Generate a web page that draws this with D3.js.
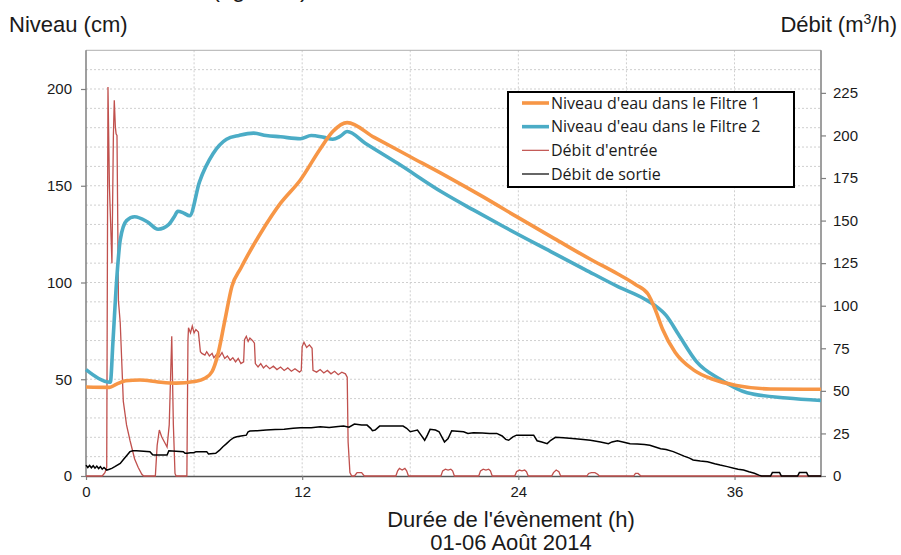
<!DOCTYPE html>
<html>
<head>
<meta charset="utf-8">
<title>Niveau et débit</title>
<script src="https://d3js.org/d3.v7.min.js"></script>
<style>
  body { margin: 0; background: #fff; }
  text { font-family: "Liberation Sans", Arial, sans-serif; fill: #1a1a1a; }
</style>
</head>
<body>
<script>
// hours, niveau (cm)
var filtre1 = [[0,46],[1.3,45.8],[1.7,47.5],[2.2,49.2],[3,49.6],[4,48.6],[5,48],[6,48.8],[6.6,50.5],
  [7,54],[7.3,62],[7.7,80],[8.1,98],[8.6,107.5],[9.7,125.6],[10.8,141],[11.9,153],[13,169],[13.7,178],
  [14.5,182.6],[16,175],[18,165],[20,155],[22,144.5],[24,133.5],[26,122.7],[28,112],[29.5,104.5],
  [30.5,99],[31.2,94],[31.6,86],[32,76],[32.7,64],[33.7,55],[34.8,50],[36.1,46.8],[38,45],[40.8,44.8]];

var filtre2 = [[0,55],[1.35,48.5],[1.5,70],[1.7,101],[1.9,122],[2.25,132],[2.7,134],[3.4,131.4],[4,127.5],
  [4.6,130],[4.9,134],[5.1,136.8],[5.4,136],[5.75,134.5],[6.3,152],[7.05,166.5],[7.8,174],[8.5,176],
  [9.3,177.2],[10,176],[10.8,175.3],[11.9,174.3],[12.5,176],[13.2,175],[13.7,174],[14.1,175.5],[14.5,178],
  [15.5,172],[17.3,161.6],[19.8,146.5],[21.5,137.5],[23.2,128.8],[25.8,116],[27.7,106.7],[29.5,98],
  [31,91.5],[31.6,88],[32.2,83],[32.9,73],[33.9,59],[35.2,50],[36.7,43],[38.9,40.3],[40.8,39]];

// hours, débit (m3/h)
var debitEntree = [[0,0],[0.9,0],[1.05,2],[1.15,5],[1.22,228.5],[1.3,170],[1.44,125],[1.52,200],[1.57,220.7],
  [1.63,205],[1.67,201],[1.72,200],[1.8,103],[1.9,90],[2.07,44],[2.25,30],[2.44,21],[2.7,10],[2.9,5],[3.1,1],
  [3.2,0],[3.85,0],[3.95,18],[4.07,27],[4.2,23],[4.3,21],[4.5,17],[4.62,30],[4.76,82],[4.85,30],[4.94,1.5],
  [5,0],[5.6,0],[5.66,80],[5.69,87],[5.8,84],[5.9,88],[6.0,84],[6.1,86],[6.24,84.5],[6.35,73],[6.43,72],
  [6.6,71],[6.7,73],[6.85,70.5],[7.0,72],[7.1,69.5],[7.25,71.5],[7.4,70],[7.55,72.5],[7.7,69],[7.85,70.5],
  [8.0,68],[8.15,69.5],[8.3,67],[8.45,69],[8.6,66],[8.75,67],[8.8,80],[8.9,82],[9.0,79],[9.1,81],[9.25,79.5],
  [9.35,78],[9.4,66],[9.55,64],[9.7,66],[9.85,63.5],[10,65],[10.2,63],[10.4,64.5],[10.6,62.5],[10.8,64],
  [11.0,62],[11.2,63.5],[11.4,61.5],[11.6,63],[11.85,61],[11.95,62],[12.0,76],[12.1,78.5],[12.25,75.5],
  [12.4,77],[12.55,75],[12.6,62],[12.8,61],[13.0,62.5],[13.2,60.5],[13.4,62],[13.6,60],[13.8,61.5],
  [14.0,59.5],[14.2,61],[14.4,60],[14.5,58],[14.55,20],[14.65,2],[14.75,0],
  [14.9,0],[15.05,2],[15.3,2],[15.45,0],
  [17.2,0],[17.3,3],[17.4,4.5],[17.55,3.5],[17.7,4.5],[17.8,3],[17.9,0],
  [19.7,0],[19.8,3],[19.95,4],[20.1,3.5],[20.25,4],[20.35,3],[20.45,0],
  [21.8,0],[21.9,3],[22.05,4],[22.2,3.5],[22.35,4],[22.45,3],[22.55,0],
  [23.8,0],[23.9,2.5],[24.05,3.5],[24.2,3],[24.35,3.5],[24.45,2.5],[24.55,0],
  [25.85,0],[25.95,2],[26.1,3.5],[26.25,2.5],[26.35,0],
  [27.8,0],[27.9,1.5],[28.05,2],[28.25,2],[28.4,1],[28.5,0],
  [30.4,0],[30.5,1.5],[30.65,1.5],[30.8,0],[40.8,0]];

var debitSortie = [[0,6.4],[0.1,5],[0.2,6.2],[0.3,4.8],[0.4,6],[0.5,4.6],[0.6,5.8],[0.7,4.4],[0.8,5.5],
  [0.9,4],[1.0,5],[1.15,3.5],[1.3,4],[1.43,4.5],[1.6,5.5],[1.9,7.4],[2.1,10],[2.3,12.5],[2.44,14.3],
  [2.6,14.8],[2.8,14.8],[3.2,14.5],[3.55,14.3],[3.7,12.5],[3.8,12.3],[4.5,12.3],[4.6,14.8],[5.4,14.3],
  [5.5,13.3],[5.6,13.3],[5.8,13.7],[6.0,13.7],[6.1,14.3],[6.7,14.3],[6.8,12.9],[7.2,13.3],[7.4,15],
  [7.6,17.2],[7.8,19],[8.0,21],[8.2,22.5],[8.37,23],[8.6,23.5],[8.9,24],[9.0,26],[9.1,26.4],[9.5,26.6],
  [10,27],[10.5,27.3],[11,27.5],[11.5,28],[11.9,28.3],[12.5,28.3],[13,28.9],[13.5,28.5],[14,29],[14.3,29.3],
  [14.6,28.7],[14.9,30.5],[15.3,30],[15.6,29.9],[15.8,28],[15.9,26.6],[16.05,27],[16.3,29.3],[17,29.3],
  [17.6,29.3],[17.8,28],[18,26],[18.2,26.5],[18.4,27],[18.6,24],[18.8,21],[18.95,24],[19.1,27.4],[19.4,27],
  [19.6,26],[19.75,23],[19.9,20],[20.1,22],[20.3,26.6],[20.6,26.3],[20.96,26],[21.2,25],[21.5,25.4],
  [22,25.2],[22.4,25],[22.8,25],[23.1,23.5],[23.3,21.5],[23.46,21],[23.7,23],[23.9,24],[24.5,24],
  [24.85,24],[25.04,20.7],[25.3,20],[25.6,19],[25.8,21],[26.06,22.7],[26.5,22.5],[27,22],[27.6,21.5],
  [28,21],[28.56,20],[29,19],[29.2,20],[29.5,20.7],[29.8,20],[30.2,19],[30.6,18.8],[31,18.5],[31.3,18],
  [31.6,17],[31.9,16],[32.2,15.5],[32.6,14.3],[32.9,13],[33.2,11.7],[33.5,10.5],[33.7,9.4],[34.1,8.8],
  [34.5,8.4],[34.9,7.2],[35.2,6.4],[35.6,5.5],[35.96,4.5],[36.2,4],[36.5,3.5],[36.8,2.5],[37.1,1.6],
  [37.35,0.5],[37.5,0],[38,0],[38.1,2],[38.5,2],[38.6,0],[39.5,0],[39.6,2],[40,2],[40.1,0],[40.8,0]];

var xTicks = [0, 12, 24, 36];
var xGrid = [6, 12, 18, 24, 30, 36];
var leftTicks = [0, 50, 100, 150, 200];
var rightTicks = [0, 25, 50, 75, 100, 125, 150, 175, 200, 225];
var legendLabels = ["Niveau d'eau dans le Filtre 1", "Niveau d'eau dans le Filtre 2", "Débit d'entrée", "Débit de sortie"];

var width = 901, height = 555;
var pL = 86, pR = 821, pT = 50.3, pB = 476;

var svg = d3.select("body").append("svg")
  .attr("width", width)
  .attr("height", height);

var x = d3.scaleLinear().domain([0, 40.8]).range([pL, pR]);
var yL = d3.scaleLinear().domain([0, 220]).range([pB, pT]);
var yR = d3.scaleLinear().domain([0, 250]).range([pB, pT]);

// grid
var grid = svg.append("g").attr("stroke", "#cfcfcf").attr("stroke-dasharray", "2,2").attr("stroke-width", 1);
grid.selectAll(".h").data(d3.range(10, 220, 10)).enter().append("line")
  .attr("x1", pL).attr("x2", pR)
  .attr("y1", d => yL(d)).attr("y2", d => yL(d));
grid.selectAll(".v").data(xGrid).enter().append("line")
  .attr("x1", d => x(d)).attr("x2", d => x(d))
  .attr("y1", pT).attr("y2", pB);

// frame
svg.append("line").attr("x1", pL).attr("x2", pR).attr("y1", pT).attr("y2", pT)
  .attr("stroke", "#b0b0b0").attr("stroke-width", 1);

// axes
var axL = svg.append("g").attr("transform", "translate(" + pL + ",0)")
  .call(d3.axisLeft(yL).tickValues(leftTicks).tickSize(5).tickPadding(9).tickSizeOuter(0));
var axR = svg.append("g").attr("transform", "translate(" + pR + ",0)")
  .call(d3.axisRight(yR).tickValues(rightTicks).tickSize(5).tickPadding(7).tickSizeOuter(0));
var axB = svg.append("g").attr("transform", "translate(0," + pB + ")")
  .call(d3.axisBottom(x).tickValues(xTicks).tickSize(4).tickPadding(6).tickSizeOuter(0));

[axL, axR, axB].forEach(function(a) {
  a.select(".domain").attr("stroke", "#7f7f7f").attr("stroke-width", 1.5);
  a.selectAll(".tick line").attr("stroke", "#7f7f7f").attr("stroke-width", 1.2);
  a.selectAll(".tick text").style("font-family", "Liberation Sans, Arial, sans-serif")
    .style("font-size", "15px").attr("fill", "#1a1a1a");
});
axB.select(".domain").attr("stroke", "#555");
axL.select(".domain").attr("d", "M0," + pB + "V" + pT);
axR.select(".domain").attr("d", "M0," + pB + "V" + pT);

// series
var lvl = d3.line().x(d => x(d[0])).y(d => yL(d[1])).curve(d3.curveMonotoneX);
var flow = d3.line().x(d => x(d[0])).y(d => yR(d[1]));

svg.append("path").datum(debitEntree).attr("d", flow)
  .attr("fill", "none").attr("stroke", "#c0504d").attr("stroke-width", 1.3);
svg.append("path").datum(debitSortie).attr("d", flow)
  .attr("fill", "none").attr("stroke", "#000").attr("stroke-width", 1.5);
svg.append("path").datum(filtre2).attr("d", lvl)
  .attr("fill", "none").attr("stroke", "#4bacc6").attr("stroke-width", 3.6);
svg.append("path").datum(filtre1).attr("d", lvl)
  .attr("fill", "none").attr("stroke", "#f79646").attr("stroke-width", 3.6);

// legend
var lg = svg.append("g");
lg.append("rect").attr("x", 508).attr("y", 92).attr("width", 286).attr("height", 95)
  .attr("fill", "#fff").attr("stroke", "#000").attr("stroke-width", 2);
var lgColors = ["#f79646", "#4bacc6", "#c0504d", "#000"];
var lgWidths = [3.6, 3.6, 1.2, 1.2];
var lgY = d3.scalePoint().domain(legendLabels).range([103, 174]);
legendLabels.forEach(function(l, i) {
  lg.append("line").attr("x1", 522).attr("x2", 549).attr("y1", lgY(l)).attr("y2", lgY(l))
    .attr("stroke", lgColors[i]).attr("stroke-width", lgWidths[i]);
  lg.append("text").attr("x", 551).attr("y", lgY(l)).attr("dy", "0.35em")
    .style("font-family", "Open Sans, sans-serif").style("font-size", "16px").text(l);
});

// titles (the first one is cut by the top edge, as in the source image)
svg.append("text").attr("x", 212).attr("y", -3).style("font-size", "24px").text("(figure 5)");
svg.append("text").attr("x", 9).attr("y", 32).style("font-size", "22px").text("Niveau (cm)");
var tR = svg.append("text").attr("x", 897).attr("y", 32).attr("text-anchor", "end").style("font-size", "22px");
tR.append("tspan").text("Débit (m");
tR.append("tspan").attr("dy", -8).style("font-size", "14px").text("3");
tR.append("tspan").attr("dy", 8).text("/h)");
svg.append("text").attr("x", 511).attr("y", 527).attr("text-anchor", "middle").style("font-size", "22px")
  .text("Durée de l'évènement (h)");
svg.append("text").attr("x", 511).attr("y", 550).attr("text-anchor", "middle").style("font-size", "22px")
  .text("01-06 Août 2014");
</script>
</body>
</html>
